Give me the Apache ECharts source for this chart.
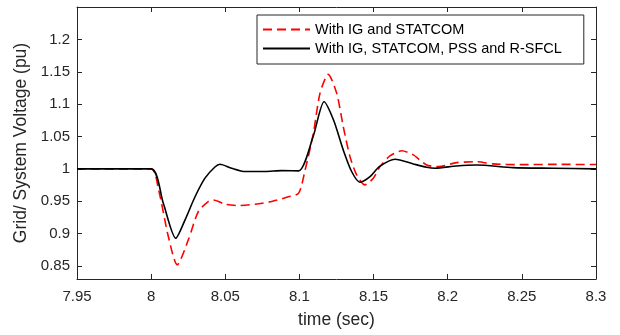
<!DOCTYPE html>
<html>
<head>
<meta charset="utf-8">
<script src="https://cdn.jsdelivr.net/npm/echarts@6/dist/echarts.min.js"></script>
<style>
html,body{margin:0;padding:0;background:#fff;}
#chart{width:620px;height:335px;}
</style>
</head>
<body>
<div id="chart"></div>
<script>
//数据
var timeIG = [7.95, 8.0, 8.005, 8.0116, 8.0176, 8.0251, 8.0318, 8.0385, 8.042, 8.0498, 8.0588, 8.070, 8.0813, 8.0925, 8.0995,
    8.1038, 8.1094, 8.1139, 8.1194, 8.1251, 8.1296, 8.1341, 8.1386, 8.1442, 8.1498, 8.1543, 8.161, 8.169, 8.1768, 8.1858,
    8.1937, 8.206, 8.2195, 8.2307, 8.2487, 8.27, 8.3];
var voltIG = [1.0, 1.0, 0.968, 0.8956, 0.852, 0.8905, 0.934, 0.9496, 0.952, 0.9455, 0.9434, 0.9455, 0.9496, 0.957, 0.9625,
    0.998, 1.055, 1.117, 1.146, 1.117, 1.065, 1.019, 0.9907, 0.9753, 0.9856, 1.0035, 1.02, 1.028, 1.0216, 1.006,
    1.0035, 1.0097, 1.011, 1.0077, 1.0066, 1.007, 1.0068];
var timePSS = [7.95, 8.0, 8.0082, 8.0166, 8.0228, 8.0296, 8.0363, 8.043, 8.0464, 8.0543, 8.0633, 8.0768, 8.088, 8.0995,
    8.1093, 8.1166, 8.123, 8.1296, 8.1352, 8.1408, 8.1476, 8.1539, 8.1645, 8.1768, 8.1858, 8.1914, 8.206, 8.2195, 8.244,
    8.2713, 8.3];
var voltPSS = [1.0, 1.0, 0.947, 0.893, 0.921, 0.957, 0.9857, 1.003, 1.0072, 1.001, 0.9959, 0.9959, 0.9974, 0.9969,
    1.0504, 1.1038, 1.0755, 1.029, 0.996, 0.9795, 0.988, 1.0035, 1.015, 1.0077, 1.0026, 1.001, 1.0046, 1.006, 1.002,
    1.001, 1.0];
var xTicks = [7.95, 8, 8.05, 8.1, 8.15, 8.2, 8.25, 8.3];
var yTicks = [0.85, 0.9, 0.95, 1, 1.05, 1.1, 1.15, 1.2];
var seriesNames = ['With IG and STATCOM', 'With IG, STATCOM, PSS and R-SFCL'];

function toPairs(xs, ys) {
    return xs.map(function (x, i) { return [x, ys[i]]; });
}

var axisColor = '#262626';
var font = 'Liberation Sans, Arial, sans-serif';

var chart = echarts.init(document.getElementById('chart'));
var option = {
    animation: false,
    grid: {left: 77, right: 24, top: 7, bottom: 56},
    legend: {
        orient: 'vertical',
        left: 257,
        top: 15,
        padding: [7, 22, 8, 5],
        borderColor: axisColor,
        borderWidth: 1,
        itemWidth: 47,
        itemHeight: 14,
        itemGap: 4,
        itemStyle: {color: 'transparent', borderColor: 'transparent', borderWidth: 0}, //只画线，不画圆点
        textStyle: {fontFamily: font, fontSize: 14.5, color: '#000'},
        data: seriesNames
    },
    xAxis: [{
        type: 'value',
        min: 7.95,
        max: 8.3,
        name: 'time (sec)',
        nameLocation: 'middle',
        nameGap: 32,
        nameTextStyle: {fontFamily: font, fontSize: 17.5, color: axisColor},
        axisLine: {lineStyle: {color: axisColor}},
        axisTick: {inside: true, length: 5, customValues: xTicks, lineStyle: {color: axisColor}},
        axisLabel: {customValues: xTicks, fontFamily: font, fontSize: 15, color: axisColor, margin: 10},
        splitLine: {show: false}
    }, {
        type: 'value',
        position: 'top',
        min: 7.95,
        max: 8.3,
        axisLine: {lineStyle: {color: axisColor}},
        axisTick: {inside: true, length: 5, customValues: xTicks, lineStyle: {color: axisColor}},
        axisLabel: {show: false},
        splitLine: {show: false}
    }],
    yAxis: [{
        type: 'value',
        min: 0.83,
        max: 1.25,
        name: 'Grid/ System Voltage (pu)',
        nameLocation: 'middle',
        nameGap: 43,
        nameTextStyle: {fontFamily: font, fontSize: 17.5, color: axisColor},
        axisLine: {show: true, lineStyle: {color: axisColor}},
        axisTick: {show: true, inside: true, length: 5, customValues: yTicks, lineStyle: {color: axisColor}},
        axisLabel: {customValues: yTicks, fontFamily: font, fontSize: 15, color: axisColor, margin: 7},
        splitLine: {show: false}
    }, {
        type: 'value',
        position: 'right',
        min: 0.83,
        max: 1.25,
        axisLine: {show: true, lineStyle: {color: axisColor}},
        axisTick: {show: true, inside: true, length: 5, customValues: yTicks, lineStyle: {color: axisColor}},
        axisLabel: {show: false},
        splitLine: {show: false}
    }],
    series: [{
        name: seriesNames[0],
        type: 'line',
        data: toPairs(timeIG, voltIG),
        smooth: 0.25,
        symbol: 'none',
        color: '#ff0000',
        lineStyle: {color: '#ff0000', width: 1.6, type: [9, 5]},
        z: 3
    }, {
        name: seriesNames[1],
        type: 'line',
        data: toPairs(timePSS, voltPSS),
        smooth: 0.25,
        symbol: 'none',
        color: '#000',
        lineStyle: {color: '#000', width: 1.6},
        z: 4
    }]
};
chart.setOption(option);
</script>
</body>
</html>
